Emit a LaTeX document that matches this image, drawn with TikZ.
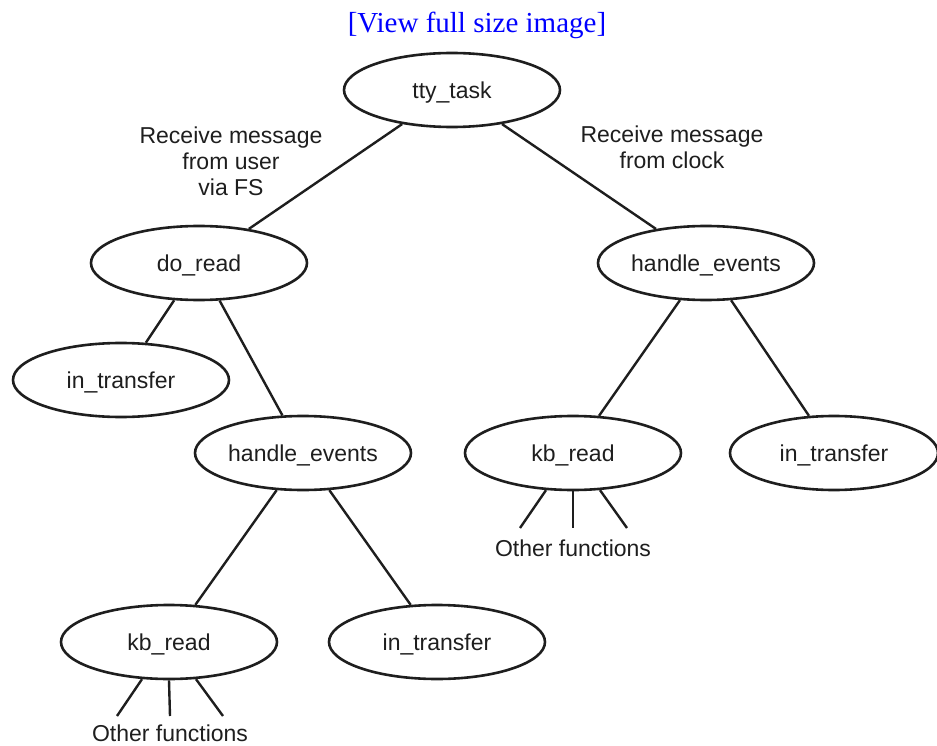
\documentclass[tikz,border=0pt]{standalone}
\usepackage{fontspec}
\setmainfont{Liberation Sans}
\newfontfamily\linkfont{Liberation Serif}
\usetikzlibrary{shapes.geometric}
\definecolor{ink}{HTML}{1E1E1E}
\tikzset{
  fn/.style={ellipse, draw=ink, line width=2.6pt, minimum width=216pt, minimum height=74pt,
    inner sep=0pt, text height=16.5pt, text depth=0pt, text=ink,
    font=\fontsize{23}{26}\selectfont},
  edge/.style={draw=ink, line width=2.4pt},
  lbl/.style={align=center, inner sep=0pt, text=ink, font=\fontsize{23}{26}\selectfont},
}
\begin{document}
\begin{tikzpicture}[x=1pt,y=-1pt]
\useasboundingbox (0,0) rectangle (937,746);
\node[anchor=base, text=blue, font=\linkfont\fontsize{29}{32}\selectfont, inner sep=0pt] (link) at (477,33) {[View full size image]};

\node[fn] (tty) at (452,90) {tty\_task};
\node[fn] (doread) at (199,263) {do\_read};
\node[fn] (inl) at (121,380) {in\_transfer};
\node[fn] (hel) at (303,453) {handle\_events};
\node[fn] (kbl) at (169,642) {kb\_read};
\node[fn] (inm) at (437,642) {in\_transfer};
\node[fn] (her) at (706,263) {handle\_events};
\node[fn] (kbr) at (573,453) {kb\_read};
\node[fn, minimum width=208pt] (inr) at (834,453) {in\_transfer};

\node[lbl] (lblu) at (231,161) {Receive message\\from user\\via FS};
\node[lbl] (lblc) at (672,147) {Receive message\\from clock};

\node[lbl, anchor=base] (ofl) at (170,741) {Other functions};
\node[lbl, anchor=base] (ofr) at (573,556) {Other functions};

\draw[edge] (tty) -- (doread);
\draw[edge] (tty) -- (her);
\draw[edge] (doread) -- (inl);
\draw[edge] (doread) -- (hel);
\draw[edge] (hel) -- (kbl);
\draw[edge] (hel) -- (inm);
\draw[edge] (her) -- (kbr);
\draw[edge] (her) -- (inr);

\coordinate (l1) at (117,716);
\coordinate (l2) at (170,716);
\coordinate (l3) at (223,716);
\draw[edge] (kbl.-126) -- (l1);
\draw[edge] (kbl.south) -- (l2);
\draw[edge] (kbl.-54) -- (l3);

\coordinate (r1) at (520,528);
\coordinate (r2) at (573,528);
\coordinate (r3) at (627,528);
\draw[edge] (kbr.-126) -- (r1);
\draw[edge] (kbr.south) -- (r2);
\draw[edge] (kbr.-54) -- (r3);
\end{tikzpicture}
\end{document}
